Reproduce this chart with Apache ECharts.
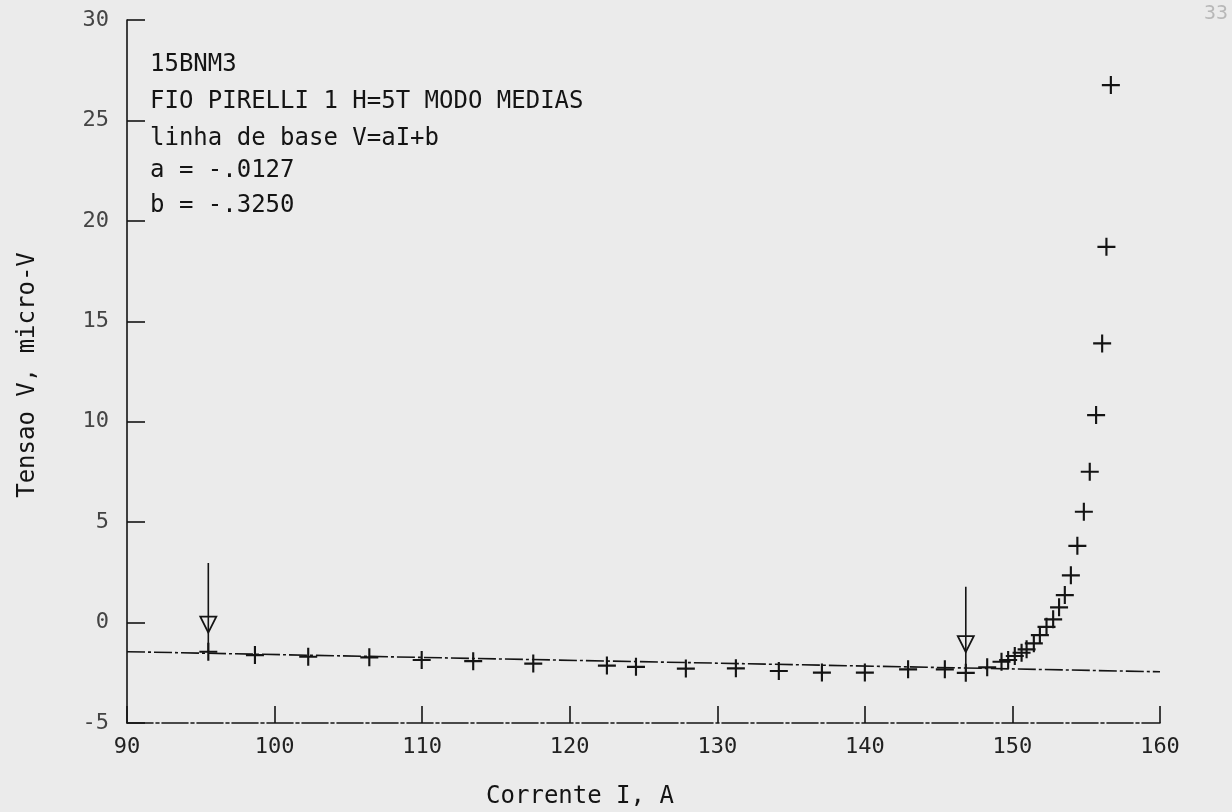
<!DOCTYPE html>
<html>
<head>
<meta charset="utf-8">
<script src="https://cdn.jsdelivr.net/npm/echarts@6/dist/echarts.min.js"></script>
<style>
  html, body { margin: 0; padding: 0; background: #ebebeb; }
  #chart { width: 1232px; height: 812px; }
</style>
</head>
<body>
<div id="chart"></div>
<script>
// ---- data ----
const currentI = [95.51, 98.67, 102.28, 106.42, 109.97, 113.46, 117.53, 122.52, 124.49, 127.87,
  131.26, 134.17, 137.09, 140.00, 142.93, 145.42, 146.84, 148.29, 149.26, 149.71,
  150.16, 150.62, 150.96, 151.45, 151.86, 152.31, 152.76, 153.16, 153.55, 153.96,
  154.40, 154.84, 155.24, 155.67, 156.08, 156.37, 156.67];
const voltageV = [-1.45, -1.62, -1.70, -1.73, -1.86, -1.92, -2.04, -2.14, -2.20, -2.29,
  -2.28, -2.41, -2.49, -2.49, -2.33, -2.33, -2.50, -2.23, -1.95, -1.86,
  -1.66, -1.50, -1.33, -1.03, -0.62, -0.21, 0.16, 0.76, 1.37, 2.35,
  3.82, 5.52, 7.51, 10.33, 13.90, 18.71, 26.76];
const baselineI = [90, 160];
const baselineV = [-1.45, -2.45];
const arrowI = [95.51, 146.84];
const arrowTopV = [2.96, 1.78];
const arrowHeadV = [-0.10, -1.07];
const arrowEndV = [-1.45, -2.50];
const xTicks = [90, 100, 110, 120, 130, 140, 150, 160];
const yTicks = [-5, 0, 5, 10, 15, 20, 25, 30];
const annotationLines = ['15BNM3', 'FIO PIRELLI 1 H=5T MODO MEDIAS', 'linha de base V=aI+b', 'a = -.0127', 'b = -.3250'];
const xTitle = 'Corrente I, A';
const yTitle = 'Tensao V, micro-V';
const pageNumber = '33';

// ---- chart ----
const FONT = '"DejaVu Sans Mono", monospace';
const INK = '#141414';
const PLUS = 'path://M0,7.1h16v1.9h-16z M7.05,0h1.9v16h-1.9z';

const pts = currentI.map((v, i) => [v, voltageV[i]]);
const series = [
  {
    type: 'line',
    data: baselineI.map((v, i) => [v, baselineV[i]]),
    symbol: 'none',
    lineStyle: { color: INK, width: 1.6, type: [18, 3, 3, 3] },
    z: 2,
    silent: true
  },
  {
    type: 'scatter',
    data: pts,
    symbol: PLUS,
    symbolSize: 18,
    itemStyle: { color: INK, opacity: 1 },
    z: 4,
    silent: true
  }
];
arrowI.forEach((x, i) => {
  series.push({
    type: 'line',
    data: [[x, arrowTopV[i]], [x, arrowEndV[i]]],
    symbol: 'none',
    lineStyle: { color: INK, width: 1.6 },
    z: 3,
    silent: true
  });
  series.push({
    type: 'scatter',
    data: [[x, arrowHeadV[i]]],
    symbol: 'triangle',
    symbolRotate: 180,
    symbolSize: [16, 16],
    itemStyle: { color: 'rgba(0,0,0,0)', borderColor: INK, borderWidth: 1.8, opacity: 1 },
    z: 3,
    silent: true
  });
});

const graphics = annotationLines.map((t, i) => ({
  type: 'text',
  x: 150,
  y: [65, 102, 139, 171, 206][i],
  style: { text: t, font: '24px ' + FONT, fill: INK, verticalAlign: 'middle', align: 'left' },
  silent: true
}));
graphics.push({
  type: 'text', x: 580, y: 797,
  style: { text: xTitle, font: '24px ' + FONT, fill: INK, verticalAlign: 'middle', align: 'center' }
});
graphics.push({
  type: 'text', x: 28, y: 375, rotation: Math.PI / 2,
  style: { text: yTitle, font: '24px ' + FONT, fill: INK, verticalAlign: 'middle', align: 'center' }
});
graphics.push({
  type: 'text', x: 1216, y: 14,
  style: { text: pageNumber, font: '20px ' + FONT, fill: '#b8b8b8', verticalAlign: 'middle', align: 'center' }
});

const chart = echarts.init(document.getElementById('chart'), null, { renderer: 'canvas' });
chart.setOption({
  backgroundColor: '#ebebeb',
  animation: false,
  grid: { left: 127, right: 72, top: 20, bottom: 89, containLabel: false },
  xAxis: {
    type: 'value',
    min: xTicks[0], max: xTicks[xTicks.length - 1], interval: 10,
    axisLine: { show: true, onZero: false, lineStyle: { color: INK, width: 1.6, type: [26, 3, 3, 3] } },
    axisTick: { show: true, inside: true, length: 17, lineStyle: { color: INK, width: 1.6 } },
    axisLabel: { show: true, margin: 13, color: '#222', fontFamily: FONT, fontSize: 22 },
    splitLine: { show: false }
  },
  yAxis: {
    type: 'value',
    min: yTicks[0], max: yTicks[yTicks.length - 1], interval: 5,
    axisLine: { show: true, onZero: false, lineStyle: { color: INK, width: 1.6 } },
    axisTick: { show: true, inside: true, length: 18, lineStyle: { color: INK, width: 1.6 } },
    axisLabel: { show: true, margin: 18, color: '#444', fontFamily: FONT, fontSize: 22 },
    splitLine: { show: false }
  },
  graphic: graphics,
  series: series
});
</script>
</body>
</html>
